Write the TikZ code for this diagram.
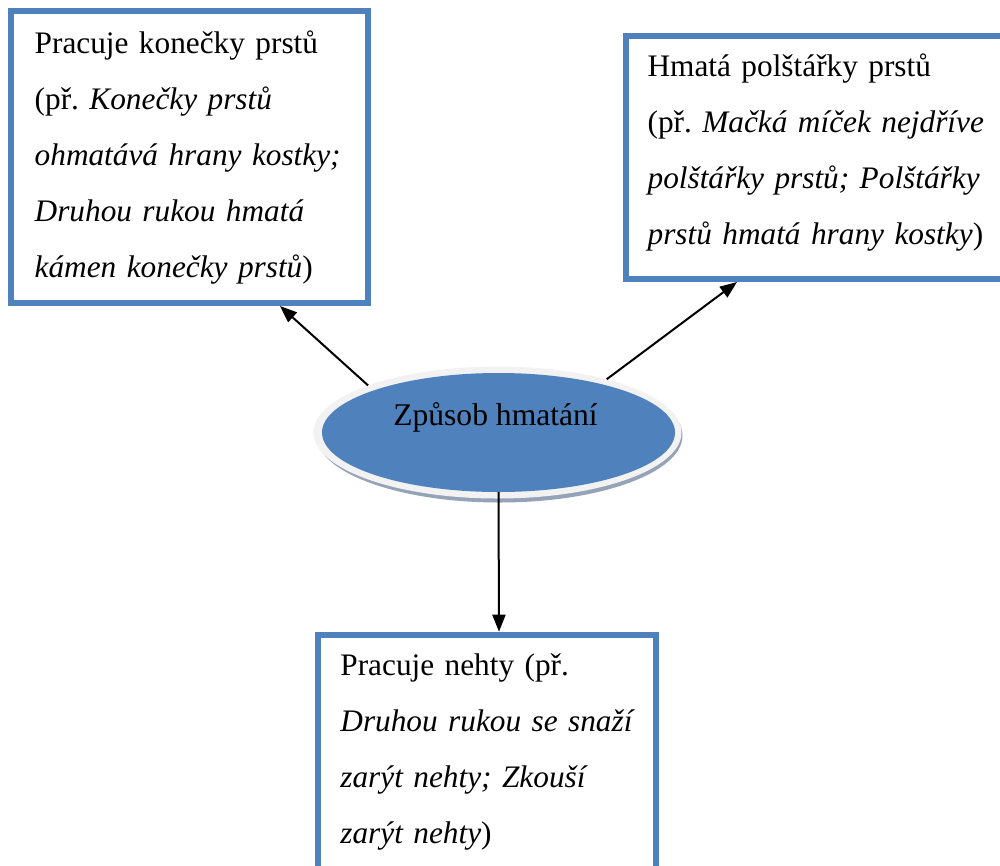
\documentclass[tikz,border=0pt]{standalone}
\usepackage{fontspec}
\setmainfont{Liberation Serif}
\usetikzlibrary{arrows.meta,shapes.geometric}
\definecolor{boxblue}{HTML}{4F81BD}
\definecolor{rimgray}{HTML}{F2F2F2}
\definecolor{shadowgray}{HTML}{95A3B8}
\frenchspacing
\begin{document}
\begin{tikzpicture}[x=1pt,y=-1pt,
  box/.style={draw=boxblue, line width=6pt, fill=white, rectangle,
    inner sep=0pt, anchor=north west},
  boxtext/.style={anchor=base west, inner sep=0pt, text width=420pt,
    align=left, font=\fontsize{31.3}{56}\selectfont},
  conn/.style={line width=2pt, -{Triangle[length=17pt,width=13pt]}},
  oval/.style={ellipse, inner sep=0pt, draw=none}
]
\useasboundingbox (0,0) rectangle (1000,865);
\clip (0,0) rectangle (1000,865);
\fill[white] (0,0) rectangle (1000,865);

% the three outer boxes
\node[box, minimum width=357pt, minimum height=292pt] (lbox) at (8,8) {};
\node[box, minimum width=384pt, minimum height=243pt] (rbox) at (623,33) {};
\node[box, minimum width=338pt, minimum height=250pt] (bbox) at (315,631.7) {};

\node[boxtext] (ltext) at (34.5,53.3) {Pracuje konečky prstů\\
(př. \textit{Konečky prstů}\\
\textit{ohmatává hrany kostky;}\\
\textit{Druhou rukou hmatá}\\
\textit{kámen konečky prstů})};

\node[boxtext] (rtext) at (647.4,76.7) {Hmatá polštářky prstů\\
(př. \textit{Mačká míček nejdříve}\\
\textit{polštářky prstů; Polštářky}\\
\textit{prstů hmatá hrany kostky})};

\node[boxtext] (btext) at (340.2,675) {Pracuje nehty (př.\\
\textit{Druhou rukou se snaží}\\
\textit{zarýt nehty; Zkouší}\\
\textit{zarýt nehty})};

% central bevelled oval
\node[oval, fill=shadowgray, minimum width=366pt, minimum height=134pt] (hubshadow) at (499.5,435.5) {};
\node[oval, fill=rimgray, minimum width=368pt, minimum height=132pt] (hub) at (497.5,432.5) {};
\node[oval, fill=boxblue, minimum width=353pt, minimum height=119pt] (hubfill) at (498.5,432.5) {};
\node[anchor=base, inner sep=0pt, font=\fontsize{31.6}{56}\selectfont] (hubtext) at (495.5,425) {Způsob hmatání};

% connectors
\draw[conn] (hub.160) -- ([xshift=-91pt]lbox.south east);
\draw[conn] (hub.26) -- ([xshift=114pt]rbox.south west);
\draw[conn] (hubfill.south) -- ([xshift=184pt]bbox.north west);
\end{tikzpicture}
\end{document}
